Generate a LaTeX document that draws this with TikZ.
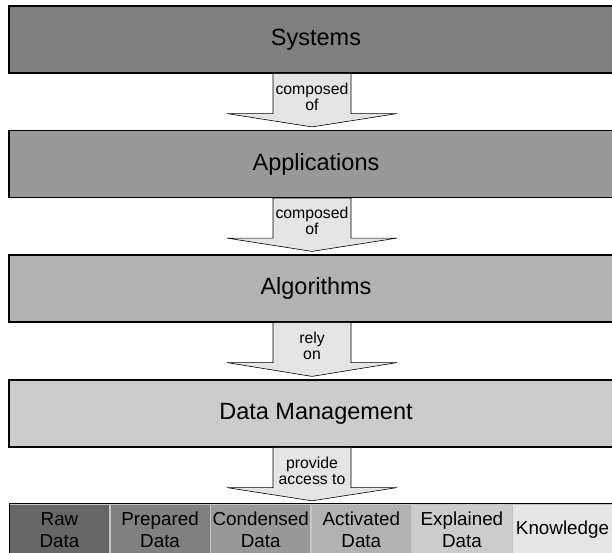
\documentclass[tikz,border=0pt]{standalone}
\usepackage{fontspec}
\setmainfont{Liberation Sans}
\usetikzlibrary{calc,positioning}

\definecolor{lay_a}{gray}{0.50}
\definecolor{lay_b}{gray}{0.60}
\definecolor{lay_c}{gray}{0.70}
\definecolor{lay_d}{gray}{0.80}
\definecolor{arr_fill}{gray}{0.90}
\definecolor{cell_a}{gray}{0.40}
\definecolor{cell_b}{gray}{0.50}
\definecolor{cell_c}{gray}{0.60}
\definecolor{cell_d}{gray}{0.70}
\definecolor{cell_e}{gray}{0.80}
\definecolor{cell_f}{gray}{0.90}

% block arrow from one layer down to the next
\newcommand{\flowarrow}[3]{%
  \draw[flow] ($(#1.south)+(-43,0)$) -- ($(#1.south)+(-43,40)$)
    -- ($(#1.south)+(-89,40)$) -- ($(#2.north)+(-4,-3)$)
    -- ($(#1.south)+(81,40)$) -- ($(#1.south)+(35,40)$)
    -- ($(#1.south)+(35,0)$) -- cycle;
  \node[flowtext] at ($(#1.south)+(-4,23)$) {#3};}

\begin{document}
\begin{tikzpicture}[x=1pt,y=-1pt]
        \tikzset{
            layer/.style={
                draw,
                line width=1.2pt,
                fill=#1,
                minimum width=614pt,
                minimum height=67pt,
                inner sep=0pt,
                font=\fontsize{23.5}{27}\selectfont
            },
            cell/.style={
                draw=gray!45,
                line width=0.6pt,
                fill=#1,
                minimum width=100pt,
                minimum height=52pt,
                inner sep=0pt,
                align=center,
                font=\fontsize{18.8}{22}\selectfont
            },
            flow/.style={
                draw,
                line width=0.6pt,
                fill=arr_fill
            },
            flowtext/.style={
                align=center,
                inner sep=0pt,
                font=\fontsize{15.8}{16}\selectfont
            }
        }
        \useasboundingbox (0,0) rectangle (612,553);

        % layers
        \node[layer=lay_a] (sys) at (316,39.5) {Systems};
        \node[layer=lay_b] (app) at (316,164) {Applications};
        \node[layer=lay_c] (alg) at (316,288.5) {Algorithms};
        \node[layer=lay_d] (dm)  at (316,413.5) {Data Management};

        % data row
        \node[cell=cell_a] (raw) at (59.5,530) {Raw\\Data};
        \node[cell=cell_b, right=0pt of raw] (prep) {Prepared\\Data};
        \node[cell=cell_c, right=0pt of prep] (cond) {Condensed\\Data};
        \node[cell=cell_d, right=0pt of cond] (act) {Activated\\Data};
        \node[cell=cell_e, right=0pt of act] (expl) {Explained\\Data};
        \node[cell=cell_f, right=0pt of expl] (know) {Knowledge};
        \draw[line width=1.2pt] (raw.south west) -- (raw.north west) -- (know.north east);
        \node[inner sep=0pt, minimum size=0pt] (rowtop) at (316,504) {};

        % arrows
        \flowarrow{sys}{app}{composed\\of}
        \flowarrow{app}{alg}{composed\\of}
        \flowarrow{alg}{dm}{rely\\on}
        \flowarrow{dm}{rowtop}{provide\\access to}

\end{tikzpicture}
\end{document}
